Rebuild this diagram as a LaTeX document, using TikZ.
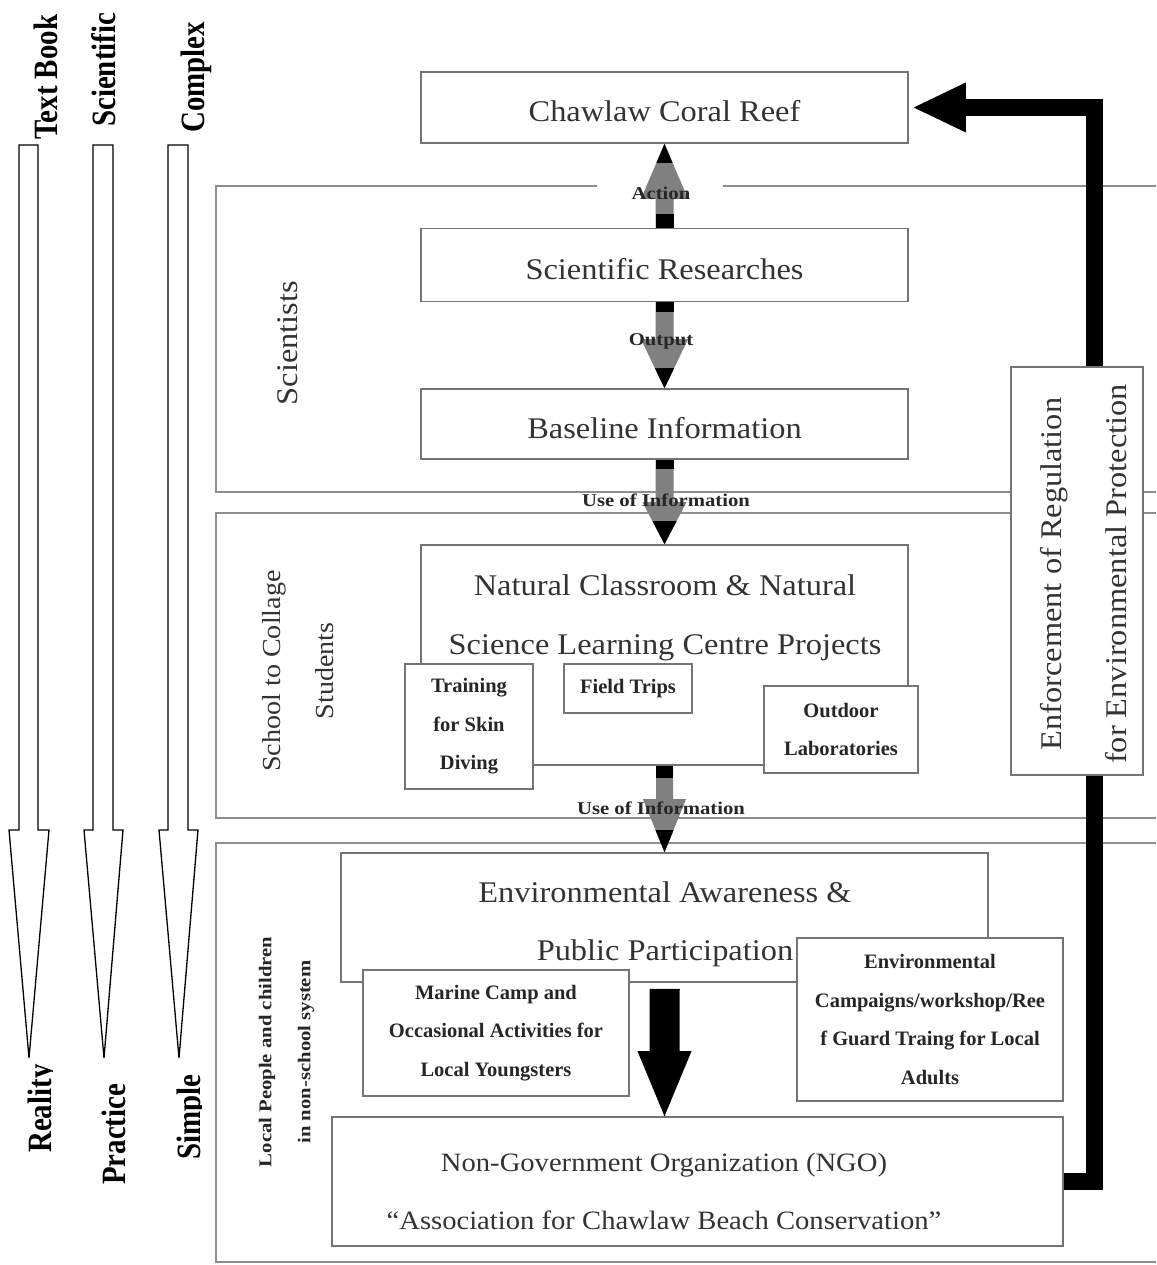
\documentclass[tikz,border=0pt]{standalone}
\usepackage{fontspec}
\setmainfont{Liberation Serif}
\newfontfamily\boxfont[FakeStretch=1.08]{Liberation Serif}
\newfontfamily\lblfont[FakeStretch=1.15]{Liberation Serif}
\newfontfamily\sidefont[FakeStretch=0.85]{Liberation Serif}
\usetikzlibrary{calc}
\definecolor{boxgray}{HTML}{747474}
\definecolor{linegray}{HTML}{8E8E8E}
\definecolor{textgray}{HTML}{333333}
\definecolor{arrowgray}{HTML}{808080}
\tikzset{
  box/.style={draw=boxgray, line width=1.6pt, fill=white, inner sep=0pt, align=center, text=textgray},
  bigtxt/.style={font=\boxfont\fontsize{30}{59}\selectfont, text=textgray, align=center, inner sep=0pt},
  onetxt/.style={bigtxt, text height=29pt, text depth=0pt},
  ngotxt/.style={font=\boxfont\fontsize{26.5}{58}\selectfont, text=textgray, align=center, inner sep=0pt},
  enftxt/.style={font=\boxfont\fontsize{30}{65}\selectfont, text=textgray, align=center, inner sep=0pt, rotate=90},
  schooltxt/.style={font=\boxfont\fontsize{26}{53}\selectfont, text=textgray, align=center, inner sep=0pt, rotate=90},
  smalltxt/.style={font=\bfseries\fontsize{20.5}{38.5}\selectfont, text=black!85},
  arrtxt/.style={font=\lblfont\bfseries\fontsize{18}{39}\selectfont, text=black!85, inner sep=0pt, align=center},
  sidetxt/.style={font=\sidefont\bfseries\fontsize{34}{40}\selectfont, inner sep=0pt, rotate=90, anchor=base west},
  hollow/.style={draw=black, line width=1.3pt, fill=white, line join=miter},
  panel/.style={draw=linegray, line width=1.8pt},
}
% #1 tail, #2 tip, #3 shaft half width, #4 head half width, #5 head length,
% #6 dark tail length, #7 dark tip length, #8 dark tip half width, #9 body colour
\newcommand\blockarr[9]{%
  \fill[#9] ($(#1)+(-#3,0)$) -- ($(#2)!#5!(#1)+(-#3,0)$) -- ($(#2)!#5!(#1)+(-#4,0)$) -- (#2)
    -- ($(#2)!#5!(#1)+(#4,0)$) -- ($(#2)!#5!(#1)+(#3,0)$) -- ($(#1)+(#3,0)$) -- cycle;
  \fill[black] ($(#1)+(-#3,0)$) -- ($(#1)!#6!(#2)+(-#3,0)$) -- ($(#1)!#6!(#2)+(#3,0)$) -- ($(#1)+(#3,0)$) -- cycle;
  \fill[black] (#2) -- ($(#2)!#7!(#1)+(-#8,0)$) -- ($(#2)!#7!(#1)+(#8,0)$) -- cycle;
}
\begin{document}
\begin{tikzpicture}[x=1pt, y=-1pt]
\fill[white] (0,0) rectangle (1156,1265);
\useasboundingbox (0,0) rectangle (1156,1265);

% ---- left hollow arrows ----
\draw[hollow] (19,145) -- (19,830) -- (9,830) -- (29,1058) -- (49,830) -- (38,830) -- (38,145) -- cycle;
\draw[hollow] (93,145) -- (93,830) -- (84,830) -- (104,1058) -- (123,830) -- (113,830) -- (113,145) -- cycle;
\draw[hollow] (168,145) -- (168,830) -- (159,830) -- (179,1058) -- (198,830) -- (188,830) -- (188,145) -- cycle;

\node[sidetxt] (ltb) at (57,140) {Text Book};
\node[sidetxt] (lsc) at (115,127) {Scientific};
\node[sidetxt] (lcx) at (204,133) {Complex};
\begin{scope}
  \clip (0,1040) rectangle (52,1210);
  \node[sidetxt] (lre) at (51,1153) {Reality};
\end{scope}
\node[sidetxt] (lpr) at (125,1185) {Practice};
\begin{scope}
  \clip (150,1040) rectangle (201,1210);
  \node[sidetxt] (lsi) at (200,1160) {Simple};
\end{scope}

% ---- panels ----
\draw[panel] (1156,186) -- (216,186) -- (216,492) -- (1156,492);
\draw[panel] (1156,513) -- (216,513) -- (216,818) -- (1156,818);
\draw[panel] (1156,843) -- (216,843) -- (216,1262) -- (1156,1262);
\fill[white] (597,180) rectangle (723,192);

\node[font=\boxfont\fontsize{30}{36}\selectfont, text=textgray, rotate=90, inner sep=0pt] (pscient) at (288,343) {Scientists};
\node[schooltxt] (pschool) at (298.5,671) {School to Collage\\Students};
\node[arrtxt, rotate=90] (plocal) at (286.5,1052) {Local People and children\\in non-school system};

% ---- boxes ----
\node[box, minimum width=487pt, minimum height=71pt, onetxt] (cr) at (664.5,107.5) {Chawlaw Coral Reef};
\node[box, minimum width=487pt, minimum height=73pt, onetxt] (sr) at (664.5,265) {Scientific Researches};
\node[box, minimum width=487pt, minimum height=70pt, onetxt] (bi) at (664.5,424) {Baseline Information};

\node[box, minimum width=731pt, minimum height=129pt] (ngo) at (697.5,1181.5) {};
\node[ngotxt] (ngotext) at (664,1191) {Non-Government Organization (NGO)\\“Association for Chawlaw Beach Conservation”};

% thick feedback connector
\coordinate (turn) at ($(ngo.east)+(31,0)$);
\coordinate (tipR) at ($(cr.east)+(5,0)$);
\draw[line width=17pt, line join=miter] (ngo.east) -- (turn) |- ($(tipR)+(48,0)$);
\fill (tipR) -- ($(tipR)+(52,-25)$) -- ($(tipR)+(52,25)$) -- cycle;

\node[box, minimum width=132pt, minimum height=408pt] (enf) at (1077,571) {};
\node[enftxt] (enftext) at (1084,574) {Enforcement of Regulation\\for Environmental Protection};

\node[box, minimum width=487pt, minimum height=220pt] (nc) at (664.5,655) {};
\node[bigtxt] (nctext) at (665,617.5) {Natural Classroom \& Natural\\Science Learning Centre Projects};
\node[box, smalltxt, minimum width=128pt, minimum height=125pt] (tr) at (469,726.5) {Training\\for Skin\\Diving};
\node[box, smalltxt, minimum width=128pt, minimum height=49pt] (ft) at (628,688.5) {Field Trips};
\node[box, smalltxt, minimum width=154pt, minimum height=87pt] (ol) at (841,729.5) {Outdoor\\Laboratories};

\node[box, minimum width=647pt, minimum height=129pt] (ea) at (664.5,917.5) {};
\node[bigtxt, font=\boxfont\fontsize{30}{58}\selectfont] (eatext) at (665,924) {Environmental Awareness \&\\Public Participation};
\node[box, smalltxt, minimum width=266pt, minimum height=126pt] (mc) at (496,1033) {Marine Camp and\\Occasional Activities for\\Local Youngsters};
\node[box, smalltxt, minimum width=266pt, minimum height=163pt] (ec) at (930,1019.5) {Environmental\\Campaigns/workshop/Ree\\f Guard Traing for Local\\Adults};

% ---- block arrows ----
\blockarr{sr.north}{cr.south}{9}{23.5}{55pt}{14pt}{19pt}{8}{arrowgray}
\blockarr{sr.south}{bi.north}{9}{23.5}{49pt}{10pt}{20pt}{9.6}{arrowgray}
\blockarr{bi.south}{nc.north}{9}{22}{42pt}{9pt}{23pt}{12}{arrowgray}
\blockarr{nc.south}{ea.north}{8.5}{21.5}{53pt}{12pt}{22pt}{9}{arrowgray}
\coordinate (bat) at ($(ea.south)+(0,6)$);
\coordinate (bah) at (ea.south |- ngo.north);
\blockarr{bat}{bah}{15}{27}{65pt}{1pt}{1pt}{1}{black}

\node[arrtxt] (lact) at (661,193) {Action};
\node[arrtxt] (lout) at (661,341) {Output};
\node[arrtxt] (luse1) at (666,500) {Use of Information};
\node[arrtxt] (luse2) at (661,808) {Use of Information};
\end{tikzpicture}
\end{document}
